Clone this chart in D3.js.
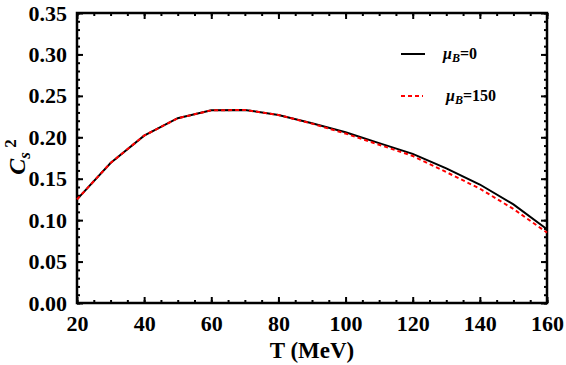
<!DOCTYPE html>
<html lang="en">
<head>
<meta charset="UTF-8" />
<title>Cs^2 vs T</title>
<script src="https://d3js.org/d3.v7.min.js"></script>
<style>
  body { margin: 0; background: #fff; }
  text { font-family: "Liberation Serif", "DejaVu Serif", serif; font-weight: bold; }
</style>
</head>
<body>
<script>
    // data
    var temps = [20, 30, 40, 50, 60, 70, 80, 90, 100, 110, 120, 130, 140, 150, 160];
    var cs2Mu0 = [0.125, 0.169, 0.202, 0.223, 0.2325, 0.233, 0.227, 0.217, 0.206, 0.193, 0.180, 0.1625, 0.143, 0.119, 0.089];
    var cs2Mu150 = [0.125, 0.169, 0.202, 0.223, 0.2325, 0.233, 0.227, 0.2165, 0.2045, 0.191, 0.1775, 0.158, 0.138, 0.1135, 0.085];
    var xTicks = [20, 40, 60, 80, 100, 120, 140, 160];
    var yTicks = [0, 0.05, 0.10, 0.15, 0.20, 0.25, 0.30, 0.35];
    var legendLabels = ["0", "150"];

    var w = 566, h = 365;
    // plot box (note: "top" is reserved on window, so use pad* names)
    var padL = 77, padR = 547, padT = 13, padB = 303;

    var xScale = d3.scaleLinear().domain([20, 160]).range([padL, padR]);
    var yScale = d3.scaleLinear().domain([0, 0.35]).range([padB, padT]);

    var svg = d3.select("body").append("svg")
        .attr("width", w)
        .attr("height", h);

    var xMinor = d3.range(20, 160.1, 5);
    var yMinor = d3.range(0, 0.3501, 0.01);

    // minor ticks (inside)
    svg.append("g").attr("transform", "translate(0," + padB + ")")
        .call(d3.axisBottom(xScale).tickValues(xMinor).tickSize(-3).tickFormat(""));
    svg.append("g").attr("transform", "translate(0," + padT + ")")
        .call(d3.axisTop(xScale).tickValues(xMinor).tickSize(-3).tickFormat(""));
    svg.append("g").attr("transform", "translate(" + padL + ",0)")
        .call(d3.axisLeft(yScale).tickValues(yMinor).tickSize(-3).tickFormat(""));
    svg.append("g").attr("transform", "translate(" + padR + ",0)")
        .call(d3.axisRight(yScale).tickValues(yMinor).tickSize(-3).tickFormat(""));

    // major ticks
    var xAxis = d3.axisBottom(xScale).tickValues(xTicks).tickSize(-6).tickPadding(12).tickFormat(d3.format("d"));
    var yAxis = d3.axisLeft(yScale).tickValues(yTicks).tickSize(-6).tickPadding(10).tickFormat(d3.format(".2f"));

    svg.append("g").attr("class", "x axis").attr("transform", "translate(0," + padB + ")").call(xAxis);
    svg.append("g").attr("class", "y axis").attr("transform", "translate(" + padL + ",0)").call(yAxis);
    svg.append("g").attr("transform", "translate(0," + padT + ")")
        .call(d3.axisTop(xScale).tickValues(xTicks).tickSize(-6).tickFormat(""));
    svg.append("g").attr("transform", "translate(" + padR + ",0)")
        .call(d3.axisRight(yScale).tickValues(yTicks).tickSize(-6).tickFormat(""));

    svg.selectAll(".domain").remove();
    svg.selectAll(".tick line").attr("stroke", "#000").attr("stroke-width", 2);
    svg.selectAll(".axis text")
        .style("font-size", "22px")
        .style("font-family", "Liberation Serif, serif")
        .style("font-weight", "bold")
        .attr("fill", "#000");

    // frame
    svg.append("rect")
        .attr("x", padL).attr("y", padT)
        .attr("width", padR - padL).attr("height", padB - padT)
        .attr("fill", "none").attr("stroke", "#000").attr("stroke-width", 2.5);

    var line = d3.line()
        .x(function (d) { return xScale(d[0]); })
        .y(function (d) { return yScale(d[1]); });

    var black = temps.map(function (t, i) { return [t, cs2Mu0[i]]; });
    var red = temps.map(function (t, i) { return [t, cs2Mu150[i]]; });

    svg.append("path").datum(black)
        .attr("d", line).attr("fill", "none")
        .attr("stroke", "#000").attr("stroke-width", 2);
    svg.append("path").datum(red)
        .attr("d", line).attr("fill", "none")
        .attr("stroke", "#ff0000").attr("stroke-width", 2)
        .attr("stroke-dasharray", "4,3");

    // legend
    var legend = svg.append("g");
    legend.append("line").attr("x1", 401).attr("x2", 425).attr("y1", 54).attr("y2", 54)
        .attr("stroke", "#000").attr("stroke-width", 2);
    legend.append("line").attr("x1", 401).attr("x2", 423).attr("y1", 96).attr("y2", 96)
        .attr("stroke", "#ff0000").attr("stroke-width", 2).attr("stroke-dasharray", "4,3");

    [[443, 59, legendLabels[0]], [446, 101, legendLabels[1]]].forEach(function (d) {
        var t = legend.append("text").attr("x", d[0]).attr("y", d[1])
            .style("font-size", "16px");
        t.append("tspan").style("font-style", "italic").text("\u03bc");
        t.append("tspan").style("font-style", "italic").style("font-size", "12px").attr("dy", 3).text("B");
        t.append("tspan").attr("dy", -3).text("=" + d[2]);
    });

    // axis titles
    svg.append("text")
        .attr("x", 312).attr("y", 358)
        .attr("text-anchor", "middle")
        .style("font-size", "23px")
        .text("T (MeV)");

    var yt = svg.append("text")
        .attr("transform", "translate(25,157) rotate(-90)")
        .attr("text-anchor", "middle")
        .style("font-size", "24px");
    yt.append("tspan").style("font-style", "italic").text("C");
    yt.append("tspan").style("font-style", "italic").style("font-size", "17px").attr("dy", 5).text("s");
    yt.append("tspan").style("font-size", "17px").attr("dy", -14).text(" 2");
</script>
</body>
</html>
